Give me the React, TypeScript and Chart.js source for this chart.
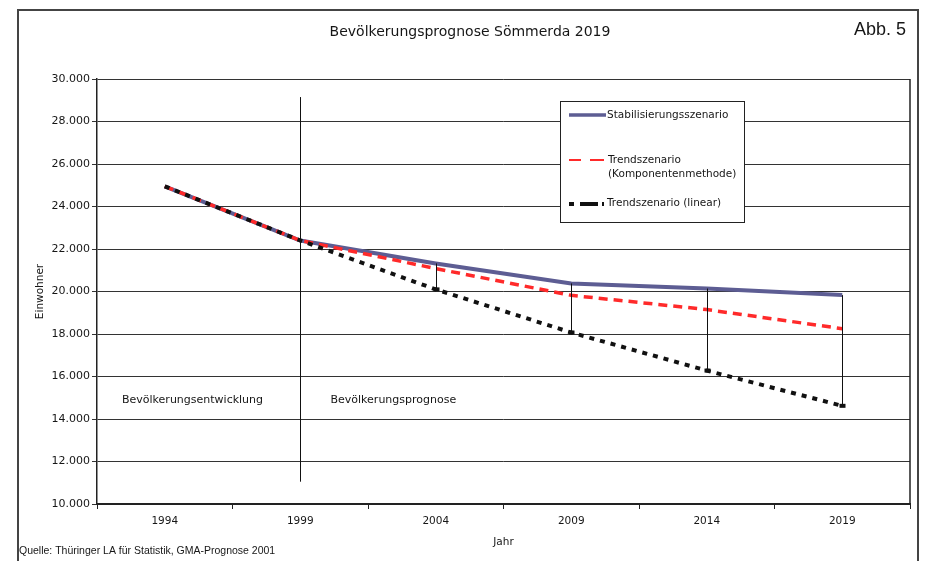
import React, { useEffect, useRef } from 'react';
import { Chart, registerables } from 'chart.js';

Chart.register(...registerables);

// ---- Data ----
const years = ['1994', '1999', '2004', '2009', '2014', '2019'];
const stabilisierung = [24950, 22400, 21320, 20380, 20140, 19830];
const trendKomponenten = [24950, 22400, 21080, 19820, 19150, 18250];
const trendLinear = [24950, 22400, 20100, 18070, 16280, 14620];
const seriesNames = ['Stabilisierungsszenario', 'Trendszenario', '(Komponentenmethode)', 'Trendszenario (linear)'];
const phaseLabels = ['Bevölkerungsentwicklung', 'Bevölkerungsprognose'];
const titleText = 'Bevölkerungsprognose Sömmerda 2019';
const figLabel = 'Abb. 5';
const sourceText = 'Quelle: Thüringer LA für Statistik, GMA-Prognose 2001';
const xTitle = 'Jahr';
const yTitle = 'Einwohner';
const yMin = 10000;
const yMax = 30000;
const yStep = 2000;
const dividerIndex = 1;
const dividerRange = [11050, 29150];
const phaseLabelValue = 14900;
const dropLineIndices = [2, 3, 4, 5];

const FONT = '"DejaVu Sans", sans-serif';
const BLUE = '#5d5d93';
const RED = '#ff2a2a';
const BLACK = '#111111';
const TEXT = '#161616';

const fmt = (v: number) => String(v).replace(/\B(?=(\d{3})+(?!\d))/g, '.');

const decorPlugin = {
  id: 'decor',
  afterDraw(chart: any) {
    const ctx = chart.ctx as CanvasRenderingContext2D;
    const xs = chart.scales.x;
    const ys = chart.scales.y;
    const area = chart.chartArea;
    ctx.save();

    // frame
    ctx.strokeStyle = '#444';
    ctx.lineWidth = 2;
    ctx.beginPath();
    ctx.moveTo(18, 561);
    ctx.lineTo(18, 10);
    ctx.lineTo(918, 10);
    ctx.lineTo(918, 561);
    ctx.stroke();

    // right border of plot
    ctx.strokeStyle = '#222';
    ctx.lineWidth = 1.5;
    ctx.beginPath();
    ctx.moveTo(area.right, area.top);
    ctx.lineTo(area.right, area.bottom);
    ctx.stroke();

    // title
    ctx.fillStyle = TEXT;
    ctx.font = `14px ${FONT}`;
    ctx.textAlign = 'center';
    ctx.textBaseline = 'middle';
    ctx.fillText(titleText, 470, 32);

    // Abb. 5
    ctx.font = '18px "Liberation Sans", Arial, sans-serif';
    ctx.textAlign = 'right';
    ctx.fillText(figLabel, 906, 30);

    // source
    ctx.font = '10.5px "Liberation Sans", Arial, sans-serif';
    ctx.textAlign = 'left';
    ctx.fillText(sourceText, 19, 551);

    // divider at 1999
    const dx = Math.round(xs.getPixelForValue(dividerIndex)) + 0.5;
    ctx.strokeStyle = '#111';
    ctx.lineWidth = 1;
    ctx.beginPath();
    ctx.moveTo(dx, ys.getPixelForValue(dividerRange[1]));
    ctx.lineTo(dx, ys.getPixelForValue(dividerRange[0]));
    ctx.stroke();

    // drop lines
    dropLineIndices.forEach((i) => {
      const px = Math.round(xs.getPixelForValue(i)) + 0.5;
      ctx.beginPath();
      ctx.moveTo(px, ys.getPixelForValue(stabilisierung[i]));
      ctx.lineTo(px, ys.getPixelForValue(trendLinear[i]));
      ctx.stroke();
      ctx.fillStyle = '#111';
      ctx.fillRect(px - 3, ys.getPixelForValue(trendLinear[i]) - 2, 6, 4);
    });

    // phase labels
    ctx.fillStyle = TEXT;
    ctx.font = `11px ${FONT}`;
    ctx.textAlign = 'left';
    const py = ys.getPixelForValue(phaseLabelValue);
    ctx.fillText(phaseLabels[0], area.left + 25, py);
    ctx.fillText(phaseLabels[1], dx + 30, py);

    // legend box
    const lx = 560, ly = 101, lw = 184, lh = 121;
    ctx.fillStyle = '#fff';
    ctx.fillRect(lx, ly, lw, lh);
    ctx.strokeStyle = '#222';
    ctx.lineWidth = 1;
    ctx.strokeRect(lx + 0.5, ly + 0.5, lw, lh);

    // samples
    ctx.lineCap = 'butt';
    ctx.strokeStyle = BLUE;
    ctx.lineWidth = 3.5;
    ctx.beginPath();
    ctx.moveTo(569, 115);
    ctx.lineTo(606, 115);
    ctx.stroke();

    ctx.strokeStyle = RED;
    ctx.lineWidth = 1.8;
    ctx.beginPath();
    ctx.moveTo(569, 160); ctx.lineTo(581, 160);
    ctx.moveTo(590, 160); ctx.lineTo(604, 160);
    ctx.stroke();

    ctx.strokeStyle = BLACK;
    ctx.lineWidth = 4;
    ctx.beginPath();
    ctx.moveTo(569, 204); ctx.lineTo(574, 204);
    ctx.moveTo(580, 204); ctx.lineTo(598, 204);
    ctx.moveTo(602, 204); ctx.lineTo(604, 204);
    ctx.stroke();

    ctx.fillStyle = TEXT;
    ctx.font = `10.5px ${FONT}`;
    ctx.textBaseline = 'middle';
    ctx.fillText(seriesNames[0], 607, 115);
    ctx.fillText(seriesNames[1], 608, 160);
    ctx.fillText(seriesNames[2], 608, 174);
    ctx.fillText(seriesNames[3], 607, 203);

    ctx.restore();
  },
};

export default function App() {
  const ref = useRef<HTMLCanvasElement>(null);
  useEffect(() => {
    if (!ref.current) return;
    const chart = new Chart(ref.current, {
      type: 'line',
      data: {
        labels: years,
        datasets: [
          {
            label: 'Stabilisierungsszenario',
            data: stabilisierung,
            borderColor: BLUE,
            borderWidth: 4,
            pointRadius: 0,
            tension: 0,
            order: 3,
          },
          {
            label: 'Trendszenario (Komponentenmethode)',
            data: trendKomponenten,
            borderColor: RED,
            borderWidth: 3.5,
            borderDash: [9, 6],
            pointRadius: 0,
            tension: 0,
            order: 2,
          },
          {
            label: 'Trendszenario (linear)',
            data: trendLinear,
            borderColor: BLACK,
            borderWidth: 4,
            borderDash: [5, 6],
            pointRadius: 0,
            tension: 0,
            order: 1,
          },
        ],
      },
      options: {
        responsive: false,
        animation: false,
        layout: { padding: { left: 0, top: 79, right: 18, bottom: 0 } },
        plugins: {
          legend: { display: false },
          tooltip: { enabled: false },
          title: { display: false },
        },
        scales: {
          x: {
            type: 'category',
            offset: true,
            grid: {
              offset: true,
              drawOnChartArea: false,
              drawTicks: true,
              tickLength: 5,
              color: '#222',
              lineWidth: 1,
            },
            border: { color: '#222', width: 2 },
            ticks: {
              font: { family: FONT, size: 10.5 },
              color: TEXT,
              padding: 6,
              maxRotation: 0,
              autoSkip: false,
            },
            title: {
              display: true,
              text: xTitle,
              font: { family: FONT, size: 10.5 },
              color: TEXT,
              padding: { top: 0, bottom: 12 },
            },
            afterFit: (s: any) => {
              s.height = 57;
            },
          },
          y: {
            min: yMin,
            max: yMax,
            ticks: {
              stepSize: yStep,
              callback: (v: any) => fmt(Number(v)),
              font: { family: FONT, size: 11 },
              color: TEXT,
              padding: 2,
            },
            grid: { color: '#333', tickLength: 5, lineWidth: 1 },
            border: { color: '#222', width: 1.5 },
            title: {
              display: true,
              text: yTitle,
              font: { family: FONT, size: 10.5 },
              color: TEXT,
              padding: { top: 34, bottom: 0 },
            },
            afterFit: (s: any) => {
              s.width = 97;
            },
          },
        },
      },
      plugins: [decorPlugin],
    });
    return () => chart.destroy();
  }, []);

  return (
    <div style={{ position: 'absolute', left: 0, top: 0, width: 928, height: 561, background: '#fff' }}>
      <canvas ref={ref} width={928} height={561} style={{ display: 'block' }} />
    </div>
  );
}
